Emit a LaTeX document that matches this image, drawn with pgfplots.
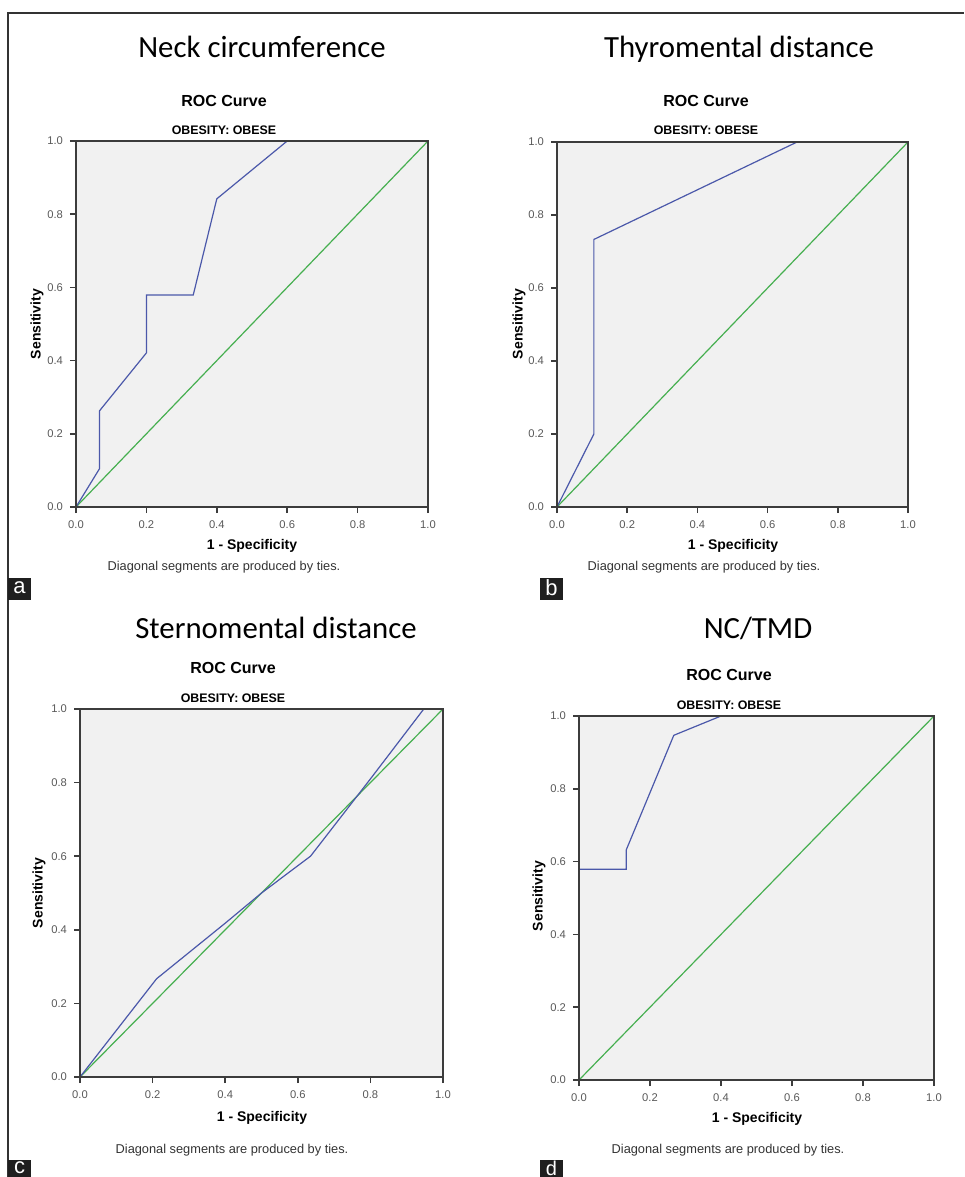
\documentclass[border=0pt]{standalone}
\usepackage{fontspec}
\setmainfont{Liberation Sans}
\newfontfamily\calibri{Carlito}
\usepackage{pgfplots}
\pgfplotsset{compat=1.18}

\definecolor{rocblue}{RGB}{75,88,170}
\definecolor{rocgreen}{RGB}{70,175,80}
\definecolor{plotbg}{RGB}{241,241,241}
\definecolor{axisgray}{RGB}{60,60,60}

\pgfplotsset{
  roc/.style={
    scale only axis,
    anchor=south west,
    xmin=0, xmax=1, ymin=0, ymax=1,
    xtick={0,0.2,0.4,0.6,0.8,1},
    ytick={0,0.2,0.4,0.6,0.8,1},
    tick pos=left,
    tick align=outside,
    major tick length=3pt,
    every tick/.style={axisgray, line width=0.8pt},
    axis line style={axisgray, line width=0.9pt},
    axis background/.style={fill=plotbg},
    axis on top,
    tick label style={font=\fontsize{5.6}{6}\selectfont, text=black!65},
    xticklabel style={yshift=-0.5pt},
    /pgf/number format/.cd, fixed, fixed zerofill, precision=1, assume math mode=true,
    /pgfplots/.cd,
    clip=false,
  },
  blueroc/.style={rocblue, line width=0.6pt, mark=none},
  greenroc/.style={rocgreen, line width=0.6pt, mark=none},
}

% title, ROC Curve and OBESITY lines of one panel
\newcommand{\paneltext}[6]{%
  \node[font=\calibri\fontsize{15.4}{18}\selectfont, anchor=base] at (#1,#2) {#3};
  \node[font=\bfseries\fontsize{8}{9}\selectfont] at (#4,#5) {ROC Curve};
  \node[font=\bfseries\fontsize{6.2}{7}\selectfont] at (#4,#6) {OBESITY: OBESE};
}

\begin{document}
\begin{tikzpicture}[x=1pt,y=1pt]
\useasboundingbox (0,0) rectangle (482,-588.5);
% outer frame
\draw[black!80, line width=0.6pt] (4,-588.5) -- (4,-6.5) -- (482,-6.5);

% ---------- a: neck circumference
\begin{axis}[roc, at={(38pt,-253.5pt)}, width=176pt, height=183pt]
\addplot[greenroc] coordinates {(0,0) (1,1)};
\addplot[blueroc] coordinates {
  (0,0) (0.067,0.105) (0.067,0.263) (0.2,0.421) (0.2,0.579)
  (0.333,0.579) (0.4,0.842) (0.6,1.0) (1,1)};
\end{axis}

% ---------- b: thyromental distance
\begin{axis}[roc, at={(278.5pt,-253.5pt)}, width=175.5pt, height=182.5pt]
\addplot[greenroc] coordinates {(0,0) (1,1)};
\addplot[blueroc] coordinates {
  (0,0) (0.105,0.2) (0.105,0.733) (0.684,1.0) (1,1)};
\end{axis}

% ---------- c: sternomental distance
\begin{axis}[roc, at={(40pt,-538.5pt)}, width=181.5pt, height=184pt]
\addplot[greenroc] coordinates {(0,0) (1,1)};
\addplot[blueroc] coordinates {
  (0,0) (0.211,0.267) (0.4,0.418) (0.5,0.5) (0.635,0.6)
  (0.8,0.81) (0.947,1.0) (1,1)};
\end{axis}

% ---------- d: NC/TMD
\begin{axis}[roc, at={(289.5pt,-540pt)}, width=177.5pt, height=182pt]
\addplot[greenroc] coordinates {(0,0) (1,1)};
\addplot[blueroc] coordinates {
  (0,0) (0,0.579) (0.133,0.579) (0.133,0.632) (0.267,0.947) (0.4,1.0) (1,1)};
\end{axis}

% titles
\paneltext{131}{-28.75}{Neck circumference}{112}{-50.5}{-65}
\paneltext{369.5}{-28.75}{Thyromental distance}{353}{-50.5}{-65}
\paneltext{138}{-319.25}{Sternomental distance}{116.5}{-334}{-349}
\paneltext{379}{-319.25}{NC/TMD}{364.5}{-337.5}{-352.5}

% axis labels
\begin{scope}[every node/.style={font=\bfseries\fontsize{7}{8}\selectfont}]
\node[rotate=90] at (18.5,-162) {Sensitivity};
\node[rotate=90] at (259.5,-162) {Sensitivity};
\node[rotate=90] at (19.5,-446.5) {Sensitivity};
\node[rotate=90] at (269.5,-448) {Sensitivity};
\node at (126,-273) {1 - Specificity};
\node at (366.5,-273) {1 - Specificity};
\node at (131,-559) {1 - Specificity};
\node at (378.5,-559.5) {1 - Specificity};
\end{scope}

% footnotes
\begin{scope}[every node/.style={font=\fontsize{6.4}{7}\selectfont, text=black!80}]
\node at (112,-283.5) {Diagonal segments are produced by ties.};
\node at (352,-283.5) {Diagonal segments are produced by ties.};
\node at (116,-575) {Diagonal segments are produced by ties.};
\node at (364,-575) {Diagonal segments are produced by ties.};
\end{scope}

% panel letters
\begin{scope}[every node/.style={font=\fontsize{11}{12}\selectfont, text=white, inner sep=0pt}]
\fill[black!88] (4,-289) rectangle (15.5,-300);
\node at (9.75,-294) {a};
\fill[black!88] (270,-289) rectangle (281.5,-300);
\node at (275.75,-294) {b};
\fill[black!88] (4,-580) rectangle (15.5,-591);
\node at (9.75,-584) {c};
\fill[black!88] (270,-580) rectangle (281.5,-591);
\node[font=\fontsize{10}{11}\selectfont] at (275.75,-584) {d};
\end{scope}
\end{tikzpicture}
\end{document}
